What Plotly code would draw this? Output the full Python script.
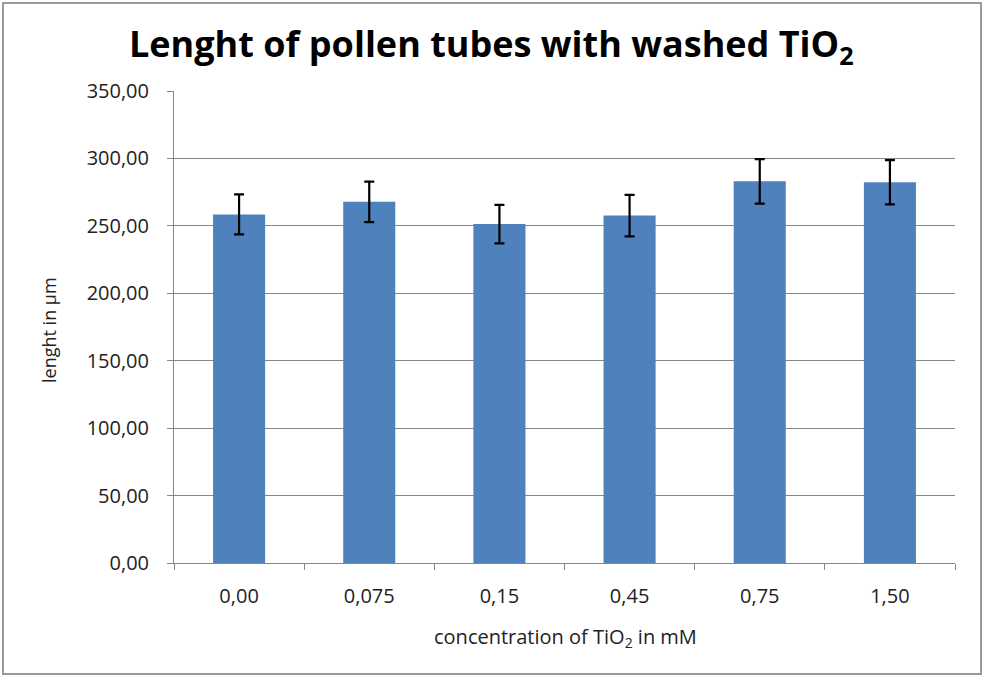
import plotly.graph_objects as go

categories = ["0,00", "0,075", "0,15", "0,45", "0,75", "1,50"]
lengths = [258.5, 267.8, 251.3, 257.6, 283.0, 282.3]
errors = [14.8, 15.0, 14.3, 15.4, 16.5, 16.4]
y_ticks = [0, 50, 100, 150, 200, 250, 300, 350]

W, H = 985, 678
L, R, T, B = 174, 955, 91, 563
pw, ph = R - L, B - T

def px(x):
    return (x - L) / pw

def py(y):
    return (B - y) / ph

fig = go.Figure()
fig.add_trace(go.Bar(
    x=categories, y=lengths,
    marker=dict(color="#4F81BD", line=dict(width=0)),
    error_y=dict(type="data", array=errors, visible=True,
                 color="black", thickness=2.2, width=5),
    width=0.4,
))

font = "Open Sans"
fig.update_layout(
    width=W, height=H,
    margin=dict(l=L, r=W - R, t=T, b=H - B, pad=0),
    paper_bgcolor="white", plot_bgcolor="white",
    separators=",.",
    showlegend=False,
    font=dict(family=font, color="black"),
    xaxis=dict(
        type="category",
        showline=True, linecolor="#868686", linewidth=1,
        ticks="outside", tickson="boundaries", ticklen=6, tickcolor="#868686",
        tickfont=dict(size=20, family=font, color="#222"),
        ticklabelstandoff=15,
        showgrid=False,
    ),
    yaxis=dict(
        range=[0, 350], tickvals=y_ticks, tickformat=".2f",
        showline=True, linecolor="#868686", linewidth=1,
        ticks="outside", ticklen=6, tickcolor="#868686",
        tickfont=dict(size=20, family=font, color="#222"),
        ticklabelstandoff=14,
        showgrid=True, gridcolor="#868686", gridwidth=1,
        zeroline=False,
    ),
    annotations=[
        dict(text="<b>Lenght of pollen tubes with washed TiO<sub>2</sub></b>",
             xref="paper", yref="paper", x=px(491), y=py(46),
             xanchor="center", yanchor="middle", showarrow=False,
             font=dict(size=36, family=font, color="black")),
        dict(text="lenght in µm",
             xref="paper", yref="paper", x=px(49), y=py(330),
             xanchor="center", yanchor="middle", showarrow=False, textangle=-90,
             font=dict(size=18, family=font, color="#222")),
        dict(text="concentration of TiO<sub>2</sub> in mM",
             xref="paper", yref="paper", x=px(565), y=py(637),
             xanchor="center", yanchor="middle", showarrow=False,
             font=dict(size=20, family=font, color="#222")),
    ],
    shapes=[
        dict(type="rect", xref="paper", yref="paper",
             x0=px(3), x1=px(981), y0=py(674), y1=py(3),
             line=dict(color="#9a9a9a", width=2), fillcolor="rgba(0,0,0,0)",
             layer="below"),
    ],
)

fig.write_html("out.html")
